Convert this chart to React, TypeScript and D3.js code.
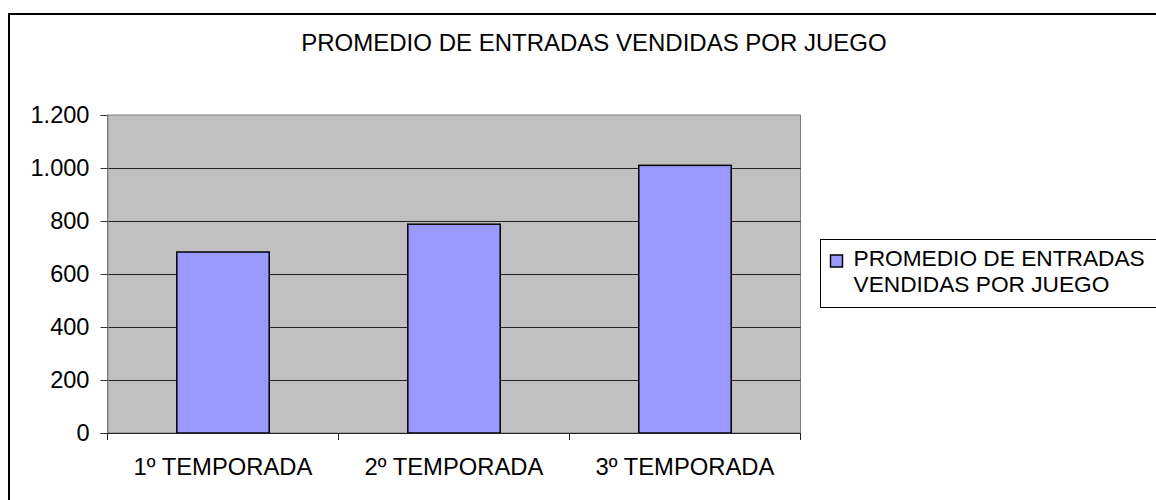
import React, { useEffect, useRef } from "react";
import * as d3 from "d3";

const categories = ["1º TEMPORADA", "2º TEMPORADA", "3º TEMPORADA"];
const values = [683, 788, 1010];
const yTicks = [0, 200, 400, 600, 800, 1000, 1200];
const chartTitle = "PROMEDIO DE ENTRADAS VENDIDAS POR JUEGO";
const legendLines = ["PROMEDIO DE ENTRADAS", "VENDIDAS POR JUEGO"];

const barColor = "#9999FF"; // excel periwinkle
const plotBg = "#C0C0C0";
const font = "'Liberation Sans', Arial, sans-serif";

export default function App() {
  const ref = useRef<SVGSVGElement | null>(null);

  useEffect(() => {
    const width = 1156;
    const height = 500;
    const plot = { left: 107.5, right: 800.5, top: 115, bottom: 433 };

    const svg = d3.select(ref.current);
    svg.selectAll("*").remove();
    svg.attr("width", width).attr("height", height);

    // outer chart frame (runs off the right/bottom of the picture)
    svg
      .append("rect")
      .attr("x", 9)
      .attr("y", 14)
      .attr("width", 1200)
      .attr("height", 600)
      .attr("fill", "white")
      .attr("stroke", "black")
      .attr("stroke-width", 2);

    const x = d3
      .scaleBand<string>()
      .domain(categories)
      .range([plot.left, plot.right])
      .paddingInner(0)
      .paddingOuter(0);
    const y = d3.scaleLinear().domain([0, 1200]).range([plot.bottom, plot.top]);

    // plot area
    svg
      .append("rect")
      .attr("x", plot.left)
      .attr("y", plot.top)
      .attr("width", plot.right - plot.left)
      .attr("height", plot.bottom - plot.top)
      .attr("fill", plotBg)
      .attr("stroke", "#808080")
      .attr("stroke-width", 1);

    // gridlines
    svg
      .append("g")
      .selectAll("line")
      .data(yTicks.filter((t) => t > 0 && t < 1200))
      .join("line")
      .attr("x1", plot.left)
      .attr("x2", plot.right)
      .attr("y1", (d) => Math.round(y(d)) + 0.5)
      .attr("y2", (d) => Math.round(y(d)) + 0.5)
      .attr("stroke", "#222")
      .attr("stroke-width", 1);

    // bars: gap width 150%
    const barW = x.bandwidth() / 2.5;
    svg
      .append("g")
      .selectAll("rect")
      .data(values)
      .join("rect")
      .attr("x", (_d, i) => x(categories[i])! + (x.bandwidth() - barW) / 2)
      .attr("y", (d) => y(d))
      .attr("width", barW)
      .attr("height", (d) => y(0) - y(d))
      .attr("fill", barColor)
      .attr("stroke", "black")
      .attr("stroke-width", 1.5);

    // y axis
    const yAxis = svg
      .append("g")
      .attr("transform", `translate(${plot.left},0)`)
      .call(
        d3
          .axisLeft(y)
          .tickValues(yTicks)
          .tickSize(7)
          .tickPadding(11)
          .tickFormat((d) => d3.format(",")(d as number).replace(/,/g, ".")),
      );
    yAxis.select(".domain").attr("stroke", "#808080");
    yAxis.selectAll(".tick line").attr("stroke", "#333");
    yAxis
      .selectAll("text")
      .attr("font-family", font)
      .attr("font-size", 23.6)
      .attr("fill", "black");

    // x axis
    const xAxis = svg
      .append("g")
      .attr("transform", `translate(0,${plot.bottom})`)
      .call(d3.axisBottom(x).tickSize(0).tickPadding(25));
    xAxis.select(".domain").attr("stroke", "#222");
    xAxis
      .selectAll("text")
      .attr("font-family", font)
      .attr("font-size", 23.8)
      .attr("fill", "black");

    // category separator ticks
    const edges = categories.map((c) => x(c)!).concat([plot.right]);
    svg
      .append("g")
      .selectAll("line")
      .data(edges)
      .join("line")
      .attr("x1", (d) => d)
      .attr("x2", (d) => d)
      .attr("y1", plot.bottom)
      .attr("y2", plot.bottom + 7)
      .attr("stroke", "#222");

    // title
    svg
      .append("text")
      .attr("x", 594)
      .attr("y", 51)
      .attr("text-anchor", "middle")
      .attr("font-family", font)
      .attr("font-size", 24)
      .text(chartTitle);

    // legend
    const legend = svg.append("g").attr("transform", "translate(820.5,239.5)");
    legend
      .append("rect")
      .attr("width", 400)
      .attr("height", 68)
      .attr("fill", "white")
      .attr("stroke", "black")
      .attr("stroke-width", 1);
    legend
      .append("rect")
      .attr("x", 10)
      .attr("y", 15.5)
      .attr("width", 12)
      .attr("height", 12)
      .attr("fill", barColor)
      .attr("stroke", "black")
      .attr("stroke-width", 1.5);
    legend
      .selectAll("text")
      .data(legendLines)
      .join("text")
      .attr("x", 33)
      .attr("y", (_d, i) => 26 + i * 26.5)
      .attr("font-family", font)
      .attr("font-size", 22.7)
      .text((d) => d);
  }, []);

  return (
    <svg
      ref={ref}
      style={{ position: "absolute", left: 0, top: 0, display: "block" }}
    />
  );
}
